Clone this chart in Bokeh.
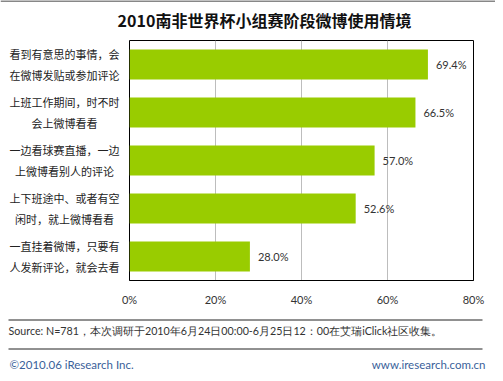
from bokeh.plotting import figure
from bokeh.layouts import column, row
from bokeh.models import Range1d, FixedTicker, PrintfTickFormatter
from bokeh.embed import file_html
from bokeh.resources import INLINE
from bokeh.core.properties import value

title = "2010南非世界杯小组赛阶段微博使用情境"
categories = [
    "看到有意思的事情，会\n在微博发贴或参加评论",
    "上班工作期间，时不时\n会上微博看看",
    "一边看球赛直播，一边\n上微博看别人的评论",
    "上下班途中、或者有空\n闲时，就上微博看看",
    "一直挂着微博，只要有\n人发新评论，就会去看",
]
values = [69.4, 66.5, 57.0, 52.6, 28.0]
value_labels = ["69.4%", "66.5%", "57.0%", "52.6%", "28.0%"]
x_ticks = [0, 20, 40, 60, 80]
source_text = "Source: N=781，本次调研于2010年6月24日00:00-6月25日12：00在艾瑞iClick社区收集。"
footer_left = "©2010.06 iResearch Inc."
footer_right = "www.iresearch.com.cn"

W = 495
TOP_H = 40
FRAME_H = 240
MID_H = 268
FOOT_H = 373 - TOP_H - MID_H
LEFT_W = 120
FRAME_L = 129
FRAME_W = 344
XMAX = 80
NCAT = len(categories)
ys = [NCAT - i - 0.5 for i in range(NCAT)]


def blank(width, height, x_range, y_range):
    f = figure(width=width, height=height, output_backend="svg",
               toolbar_location=None, x_range=x_range, y_range=y_range,
               min_border=0)
    f.axis.visible = False
    f.grid.visible = False
    f.outline_line_color = None
    f.background_fill_color = "white"
    f.border_fill_color = "white"
    return f


# title strip
top = blank(W, TOP_H, Range1d(0, W), Range1d(TOP_H, 0))
top.segment(x0=[0], y0=[0.5], x1=[W], y1=[0.5], line_color="#111111", line_width=1)
top.text(x=[264], y=[19], text=[title], text_align="center",
         text_baseline="middle", text_font=value("Noto Sans CJK SC"),
         text_font_style="bold", text_font_size="16px", text_color="#111111")

# category labels column
yr = Range1d(0, NCAT)
left = figure(width=LEFT_W, height=MID_H, output_backend="svg",
              toolbar_location=None, x_range=Range1d(0, LEFT_W), y_range=yr,
              min_border_left=0, min_border_right=0, min_border_top=0,
              min_border_bottom=MID_H - FRAME_H)
left.axis.visible = False
left.grid.visible = False
left.outline_line_color = None
left.background_fill_color = "white"
left.border_fill_color = "white"
left.text(x=[64] * NCAT, y=ys, text=categories, text_align="center",
          text_baseline="middle", text_font=value("Noto Sans CJK SC"),
          text_font_size="11px", text_color="#222222", text_line_height=1.3)

# main chart
p = figure(width=W - LEFT_W, height=MID_H, output_backend="svg",
           toolbar_location=None, x_range=Range1d(0, XMAX), y_range=yr,
           min_border_left=FRAME_L - LEFT_W,
           min_border_right=W - FRAME_L - FRAME_W,
           min_border_top=0, min_border_bottom=MID_H - FRAME_H)
p.outline_line_color = "black"
p.outline_line_width = 1
p.background_fill_color = "white"
p.border_fill_color = "white"
p.yaxis.visible = False
p.ygrid.visible = False
p.xaxis.ticker = FixedTicker(ticks=x_ticks)
p.xgrid.ticker = FixedTicker(ticks=x_ticks)
p.xgrid.grid_line_color = "#bdbdbd"
p.xaxis.formatter = PrintfTickFormatter(format="%d%%")
p.xaxis.major_tick_line_color = None
p.xaxis.minor_tick_line_color = None
p.xaxis.axis_line_color = "black"
p.xaxis.major_label_standoff = 6
p.xaxis.major_label_text_font = "Lato"
p.xaxis.major_label_text_font_size = "11px"
p.xaxis.major_label_text_color = "#333333"

p.hbar(y=ys, left=0, right=values, height=0.625, color="#99cc00", line_color=None)
p.text(x=values, y=ys, text=value_labels, x_offset=8, text_baseline="middle",
       text_font=value("Lato"), text_font_size="11px", text_color="#333333")

# footer (local y = image y - 308)
foot = blank(W, FOOT_H, Range1d(0, W), Range1d(FOOT_H, 0))
foot.segment(x0=[8, 8], y0=[11.5, 40.5], x1=[482, 482], y1=[11.5, 40.5],
             line_color="#222222", line_width=1)
foot.text(x=[8], y=[22], text=[source_text], text_align="left",
          text_baseline="middle", text_font=value("Lato"),
          text_font_size="10.7px", text_color="#333333")
foot.text(x=[9], y=[56], text=[footer_left], text_align="left",
          text_baseline="middle", text_font=value("Lato"),
          text_font_size="11.5px", text_color="#3a5f9a")
foot.text(x=[485], y=[56], text=[footer_right], text_align="right",
          text_baseline="middle", text_font=value("Lato"),
          text_font_size="11.5px", text_color="#3a5f9a")

layout = column(top, row(left, p), foot)
open("out.html", "w").write(file_html(layout, INLINE))
